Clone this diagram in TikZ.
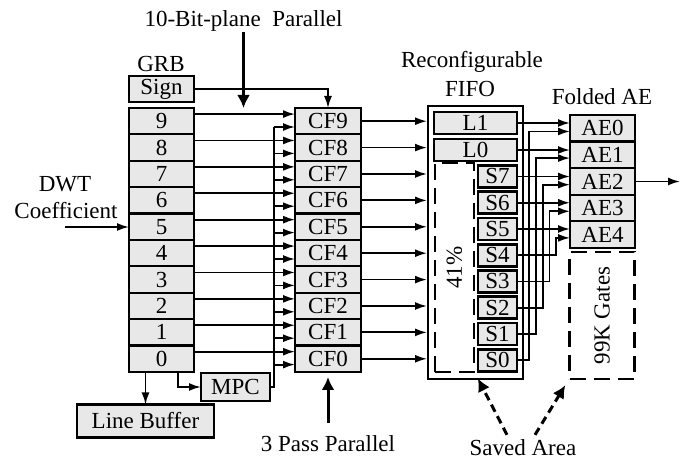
\documentclass[tikz,border=0pt]{standalone}
\usepackage{fontspec}
\setmainfont{Liberation Serif}
\usetikzlibrary{positioning, arrows.meta, calc}
\definecolor{cellgray}{RGB}{232,232,232}

\begin{document}
\begin{tikzpicture}[
  x=0.5pt, y=-0.5pt,
  font=\fontsize{11.5}{13}\selectfont,
  cell/.style={draw, fill=cellgray, line width=1.1pt, inner sep=0pt, outer sep=0pt, minimum width=32.5pt, minimum height=13.2pt},
  fifocell/.style={cell, line width=1.3pt, minimum height=11pt},
  dashbox/.style={draw, line width=1.1pt, dash pattern=on 8pt off 4pt, inner sep=0pt},
  conn/.style={line width=0.9pt, -{Latex[length=6pt,width=4pt]}},
  bigarrow/.style={line width=1.5pt, -{Latex[length=6.5pt,width=6.5pt]}},
  savedarrow/.style={line width=1.5pt, dash pattern=on 4pt off 2.5pt, -{Latex[length=6.5pt,width=6.5pt]}}
]
\useasboundingbox (0,0) rectangle (681,459);

% GRB column
\node (grb) at (161,64) {GRB};
\node[cell, minimum height=13pt] (sign) at (161.5,89) {Sign};
\foreach \i in {9,...,0}
  \node[cell] (b\i) at (161.5,{121.2+(9-\i)*26.4}) {\i};
\node[cell, minimum width=34.5pt, minimum height=14pt] (mpc) at (235.5,387) {MPC};
\node[cell, minimum width=68.5pt, minimum height=16.5pt] (lbuf) at (145.5,421) {Line Buffer};

% CF column
\foreach \i in {9,...,0}
  \node[cell, minimum width=33pt] (cf\i) at (328,{121.2+(9-\i)*26.4}) {CF\i};

% reconfigurable FIFO
\node[draw, line width=1pt, minimum width=47.5pt, minimum height=136.5pt, inner sep=0pt] (fifo) at (475.5,242.5) {};
\node[fifocell, minimum width=41.5pt] (l1) at (475.5,123) {L1};
\node[fifocell, minimum width=41.5pt] (l0) at (475.5,150) {L0};
\foreach \i in {7,...,0}
  \node[fifocell, minimum width=19.5pt] (s\i) at (497.5,{176.5+(7-\i)*26.25}) {S\i};
\node[dashbox, minimum width=19.5pt, minimum height=104.5pt] (saved41) at (454.5,267.5) {};
\node[rotate=90] (pct) at (saved41) {41\%};

% folded AE
\foreach \i in {0,...,4}
  \node[cell, minimum height=13.3pt] (ae\i) at (602.5,{128.3+\i*26.6}) {AE\i};
\node[dashbox, minimum width=32.5pt, minimum height=63.5pt] (gates) at (602,315.5) {};
\node[rotate=90] (gatestxt) at (gates) {99K Gates};

% labels
\node (tenbit) at (243.5,21) {10-Bit-plane\ \ Parallel};
\node (dwt) at (65,184) {DWT};
\node (coef) at (66,211) {Coefficient};
\node (recfg) at (472,62) {Reconfigurable};
\node (fifolbl) at (470,89) {FIFO};
\node (folded) at (602,97) {Folded AE};
\node (threepass) at (328,444) {3 Pass Parallel};
\node (saved) at (523,448) {Saved Area};

% GRB -> CF
\coordinate (dwtin) at (65,227);
\draw[conn] (dwtin) -- (dwtin -| b5.west);
\draw[conn] (sign.east) -| (cf9.north);
\coordinate (bus) at ($(mpc.east)+(4,0)$);
\foreach \i in {9,...,0} {
  \draw[conn] ($(b\i.north east)!0.23!(b\i.south east)$) -- ($(cf\i.north west)!0.23!(cf\i.south west)$);
  \coordinate (cfin\i) at ($(cf\i.north west)!0.72!(cf\i.south west)$);
  \draw[conn] (bus |- cfin\i) -- (cfin\i);
  \draw[conn] (cf\i.east) -- (cf\i.east -| fifo.west);
}
\draw[line width=0.9pt] (mpc.east) -- (bus) -- (bus |- cfin9);
\draw[conn] ($(b0.south)+(16.5,0)$) |- (mpc.west);
\draw[conn] (b0.south -| lbuf.north) -- (lbuf.north);
\draw[bigarrow, shorten <=-3pt] (tenbit.south) -- (tenbit.south |- b9.north);
\draw[bigarrow, shorten <=3pt, shorten >=2.5pt] (threepass.north) -- (cf0.south);

% FIFO -> AE
\draw[conn] (l1.east) -- (l1.east -| ae0.west);
\draw[conn] (l0.east) -- (l0.east -| ae1.west);
\draw[conn] (s7.east) -- (s7.east -| ae2.west);
\draw[conn] (s6.east) -- (s6.east -| ae3.west);
\draw[conn] (s5.east) -- (s5.east -| ae4.west);
\foreach \j in {0,...,4} {
  \coordinate (aein\j) at ($(ae\j.north west)!0.62!(ae\j.south west)$);
  \draw[conn] (s\j.east) -- ++({12+6.8*\j},0) |- (aein\j);
}
\coordinate (aeout) at ($(ae2.east)+(45,0)$);
\draw[conn] (ae2.east) -- (aeout);

% saved area
\draw[savedarrow, shorten >=3pt] ($(saved.north)+(-16,2)$) -- (saved41.south east);
\draw[savedarrow, shorten >=3pt] ($(saved.north)+(12,2)$) -- (gates.south west);
\end{tikzpicture}
\end{document}
